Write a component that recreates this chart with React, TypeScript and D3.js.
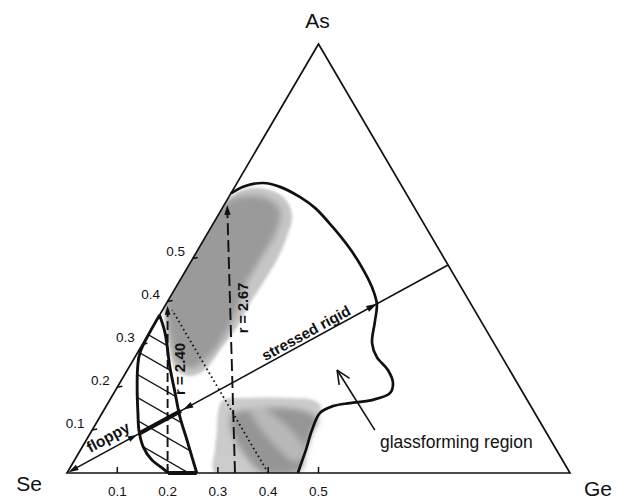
import React from 'react';
import * as d3 from 'd3';

const W = 625, H = 501;
type C = [number, number]; // [Ge fraction, As fraction]

const vertexLabels = ['Se', 'Ge', 'As'];
const geTicks = [0.1, 0.2, 0.3, 0.4, 0.5];
const asTicks = [0.1, 0.2, 0.3, 0.4, 0.5];

const glassBoundary: C[] = [
  [0, 0.652], [0.02, 0.669], [0.052, 0.676], [0.09, 0.667], [0.142, 0.643], [0.184, 0.618],
  [0.242, 0.573], [0.302, 0.522], [0.346, 0.48], [0.389, 0.434], [0.419, 0.394], [0.436, 0.352],
  [0.455, 0.303], [0.481, 0.27], [0.518, 0.24], [0.543, 0.21], [0.549, 0.186], [0.521, 0.17],
  [0.481, 0.163], [0.451, 0.156], [0.433, 0.14], [0.437, 0.1], [0.448, 0.054], [0.456, 0.014], [0.459, 0],
];
const floppyLeft: C[] = [
  [0, 0.368], [0.005, 0.28], [0.017, 0.247], [0.043, 0.193], [0.071, 0.14], [0.093, 0.1],
  [0.121, 0.061], [0.154, 0.03], [0.183, 0.012], [0.201, 0],
];
const floppyRight: C[] = [
  [0, 0.368], [0.032, 0.326], [0.081, 0.247], [0.122, 0.186], [0.159, 0.131], [0.2, 0.077],
  [0.23, 0.037], [0.258, 0],
];
const upperBlobOuter: C[] = [
  [0, 0.392], [0, 0.629], [0.02, 0.66], [0.052, 0.664], [0.091, 0.653], [0.125, 0.629], [0.149, 0.597],
  [0.162, 0.55], [0.169, 0.497], [0.168, 0.443], [0.166, 0.396], [0.168, 0.34], [0.161, 0.294],
  [0.154, 0.24], [0.132, 0.226], [0.097, 0.24], [0.054, 0.298], [0.019, 0.357],
];
const upperBlobInner: C[] = [
  [0, 0.399], [0, 0.629], [0.041, 0.646], [0.086, 0.636], [0.117, 0.613], [0.134, 0.566], [0.135, 0.497],
  [0.135, 0.445], [0.148, 0.38], [0.152, 0.317], [0.145, 0.27], [0.126, 0.245], [0.091, 0.259], [0.044, 0.322],
];
const lowerBlobOuter: C[] = [
  [0.225, 0.17], [0.276, 0.175], [0.35, 0.175], [0.404, 0.17], [0.428, 0.154], [0.439, 0.1], [0.448, 0.054],
  [0.456, 0.014], [0.459, 0], [0.294, 0], [0.267, 0.054], [0.251, 0.093], [0.23, 0.14],
];
const lowerBlobInner: C[] = [
  [0.26, 0.135], [0.299, 0.149], [0.357, 0.1515], [0.413, 0.14], [0.437, 0.1235], [0.439, 0.0956],
  [0.448, 0.054], [0.46, 0.007], [0.387, 0.002], [0.333, 0.042], [0.286, 0.0886],
];
const lowerBlobStripe: C[] = [
  [0.291, 0.147], [0.312, 0.1515], [0.446, 0.054], [0.442, 0.026],
];
const r240Line: C[] = [[0.2, 0], [0.005, 0.39]];
const r267Line: C[] = [[0.334, 0], [0.006, 0.625]];
const dottedLine: C[] = [[0.4, 0], [0.019, 0.38]];
const mainLine: C[] = [[0, 0], [0.515, 0.485]];
const floppyArrowTip = 0.183, thickStart = 0.189, thickEnd = 0.299, rigidArrowTip = 0.305, glassCross = 0.814;
const glassArrow: C[] = [[0.562, 0.1], [0.417, 0.24]];

const xS = d3.scaleLinear().domain([0, 1]).range([67, 570]);
const yS = d3.scaleLinear().domain([0, 1]).range([473, 44]);
const proj = ([ge, as]: C): [number, number] => [xS(ge + as / 2), yS(as)];

const FONT = '"Liberation Sans", Arial, Helvetica, sans-serif';
const INK = '#111';

function lerp(a: C, b: C, t: number): C {
  return [a[0] + (b[0] - a[0]) * t, a[1] + (b[1] - a[1]) * t];
}

function arrowHead(tip: [number, number], from: [number, number], len = 10, hw = 3.2) {
  const dx = tip[0] - from[0], dy = tip[1] - from[1];
  const L = Math.hypot(dx, dy);
  const ux = dx / L, uy = dy / L;
  const bx = tip[0] - ux * len, by = tip[1] - uy * len;
  return `M${tip[0]},${tip[1]}L${bx - uy * hw},${by + ux * hw}L${bx + uy * hw},${by - ux * hw}Z`;
}

export default function App() {
  const se = proj([0, 0]), ge = proj([1, 0]), as = proj([0, 1]);
  const tri = `M${se}L${ge}L${as}Z`;
  const smooth = d3.line<C>().x(d => proj(d)[0]).y(d => proj(d)[1]).curve(d3.curveCatmullRom.alpha(0.5));
  const closedSmooth = d3.line<C>().x(d => proj(d)[0]).y(d => proj(d)[1]).curve(d3.curveCatmullRomClosed.alpha(0.5));
  const straight = d3.line<C>().x(d => proj(d)[0]).y(d => proj(d)[1]);

  const hatchRegion = smooth(floppyLeft) + 'L' + smooth([...floppyRight].reverse())!.slice(1) + 'Z';

  const anchor = proj([0.005, 0.28]);
  const slope = Math.tan(Math.PI / 6);
  const hatch: string[] = [];
  for (let k = -8; k <= 8; k++) {
    const y0 = anchor[1] + k * 23;
    const x1 = 100, x2 = 230;
    hatch.push(`M${x1},${y0 + slope * (x1 - anchor[0])}L${x2},${y0 + slope * (x2 - anchor[0])}`);
  }

  const mA = mainLine[0], mB = mainLine[1];
  const P = (t: number) => proj(lerp(mA, mB, t));

  const r240 = r240Line.map(proj);
  const r267 = r267Line.map(proj);
  const gA = glassArrow.map(proj);

  const angle = Math.atan2(P(1)[1] - P(0)[1], P(1)[0] - P(0)[0]) * 180 / Math.PI;

  const gdx = gA[1][0] - gA[0][0], gdy = gA[1][1] - gA[0][1];
  const gL = Math.hypot(gdx, gdy);
  const gux = gdx / gL, guy = gdy / gL;
  const openHead = (s: number) => {
    const a = Math.atan2(guy, gux) + Math.PI + s * 0.42;
    return `M${gA[1][0]},${gA[1][1]}L${gA[1][0] + Math.cos(a) * 15},${gA[1][1] + Math.sin(a) * 15}`;
  };

  return (
    <svg width={W} height={H} style={{ position: 'absolute', left: 0, top: 0, background: '#fff' }} fontFamily={FONT}>
      <defs>
        <clipPath id="triClip"><path d={tri} /></clipPath>
        <clipPath id="hatchClip"><path d={hatchRegion} /></clipPath>
        <filter id="soft" x="-10%" y="-10%" width="120%" height="120%">
          <feGaussianBlur stdDeviation="1.6" />
        </filter>
        <filter id="softer" x="-10%" y="-10%" width="120%" height="120%">
          <feGaussianBlur stdDeviation="3" />
        </filter>
      </defs>

      {/* shaded blobs */}
      <g clipPath="url(#triClip)">
        <g filter="url(#soft)">
          <path d={closedSmooth(upperBlobOuter)!} fill="#c6c6c6" />
          <path d={closedSmooth(lowerBlobOuter)!} fill="#cbcbcb" />
        </g>
        <g filter="url(#softer)">
          <path d={closedSmooth(upperBlobInner)!} fill="#9a9a9a" />
          <path d={closedSmooth(lowerBlobInner)!} fill="#959595" />
          <path d={closedSmooth(lowerBlobStripe)!} fill="#b8b8b8" />
        </g>
      </g>

      {/* hatching */}
      <g clipPath="url(#hatchClip)">
        {hatch.map((d, i) => <path key={i} d={d} stroke={INK} strokeWidth={1.3} />)}
      </g>

      {/* triangle */}
      <path d={tri} fill="none" stroke={INK} strokeWidth={1.7} strokeLinejoin="miter" />

      {/* ticks */}
      {geTicks.map(t => {
        const [x, y] = proj([t, 0]);
        return <g key={'g' + t}>
          <line x1={x} x2={x} y1={y} y2={y - 6} stroke={INK} strokeWidth={1.5} />
          <text x={x} y={y + 23} fontSize={13.5} textAnchor="middle" fill={INK}>{t.toFixed(1)}</text>
        </g>;
      })}
      {asTicks.map(t => {
        const [x, y] = proj([0, t]);
        return <g key={'a' + t}>
          <line x1={x} x2={x + 5} y1={y} y2={y - 1} stroke={INK} strokeWidth={1.5} />
          <text x={x - 17} y={y - 7} dy="0.35em" fontSize={13.5} textAnchor="middle" fill={INK}>{t.toFixed(1)}</text>
        </g>;
      })}

      {/* vertex labels */}
      <text x={se[0] - 38} y={se[1] + 18} fontSize={21} textAnchor="middle" fill={INK}>{vertexLabels[0]}</text>
      <text x={ge[0] + 28} y={ge[1] + 23} fontSize={21} textAnchor="middle" fill={INK}>{vertexLabels[1]}</text>
      <text x={as[0] - 1} y={as[1] - 16} fontSize={21} textAnchor="middle" fill={INK}>{vertexLabels[2]}</text>

      {/* glass forming boundary */}
      <path d={smooth(glassBoundary)!} fill="none" stroke={INK} strokeWidth={2.7} strokeLinejoin="round" />

      {/* floppy region bold boundaries */}
      <path d={smooth(floppyLeft)!} fill="none" stroke={INK} strokeWidth={2.9} />
      <path d={smooth(floppyRight)!} fill="none" stroke={INK} strokeWidth={2.9} />
      <path d={straight([floppyLeft[floppyLeft.length - 1], floppyRight[floppyRight.length - 1]])!} stroke={INK} strokeWidth={4} />

      {/* r lines */}
      <path d={straight([r240Line[0], lerp(r240Line[0], r240Line[1], 0.97)])!} fill="none" stroke={INK} strokeWidth={1.9} strokeDasharray="9 4" />
      <path d={arrowHead(r240[1], r240[0], 9, 2.8)} fill={INK} />
      <path d={straight([r267Line[0], lerp(r267Line[0], r267Line[1], 0.98)])!} fill="none" stroke={INK} strokeWidth={1.9} strokeDasharray="12 5" />
      <path d={arrowHead(r267[1], r267[0], 10, 3.2)} fill={INK} />
      <path d={straight(dottedLine)!} fill="none" stroke={INK} strokeWidth={1.8} strokeDasharray="1.6 3" />

      {/* main floppy / stressed rigid line */}
      <path d={`M${P(0.01)}L${P(1)}`} stroke={INK} strokeWidth={1.6} />
      <path d={`M${P(thickStart)}L${P(thickEnd)}`} stroke={INK} strokeWidth={4.2} />
      <path d={arrowHead(P(0.004), P(0.1), 10, 3)} fill={INK} />
      <path d={arrowHead(P(floppyArrowTip), P(0.1), 9, 3)} fill={INK} />
      <path d={arrowHead(P(rigidArrowTip), P(0.5), 10, 3)} fill={INK} />
      <path d={arrowHead(P(glassCross), P(0.5), 11, 3.2)} fill={INK} />

      {/* glassforming arrow */}
      <path d={`M${gA[0]}L${gA[1]}`} stroke={INK} strokeWidth={1.6} />
      <path d={openHead(1)} stroke={INK} strokeWidth={1.6} />
      <path d={openHead(-1)} stroke={INK} strokeWidth={1.6} />

      {/* annotations */}
      <text transform={`translate(180,369) rotate(-90)`} dy="0.35em" fontSize={15} fontWeight="bold" textAnchor="middle" fill={INK}>r = 2.40</text>
      <text transform={`translate(243,308) rotate(-90)`} dy="0.35em" fontSize={14.5} fontWeight="bold" textAnchor="middle" fill={INK}>r = 2.67</text>
      <text transform={`translate(306,333) rotate(${angle})`} dy="0.35em" fontSize={15} fontWeight="bold" textAnchor="middle" fill={INK}>stressed rigid</text>
      <text transform={`translate(108,437) rotate(${angle})`} dy="0.35em" fontSize={15.5} fontWeight="bold" textAnchor="middle" fill={INK}>floppy</text>
      <text x={380} y={448} fontSize={17.5} fill={INK}>glassforming region</text>
    </svg>
  );
}
